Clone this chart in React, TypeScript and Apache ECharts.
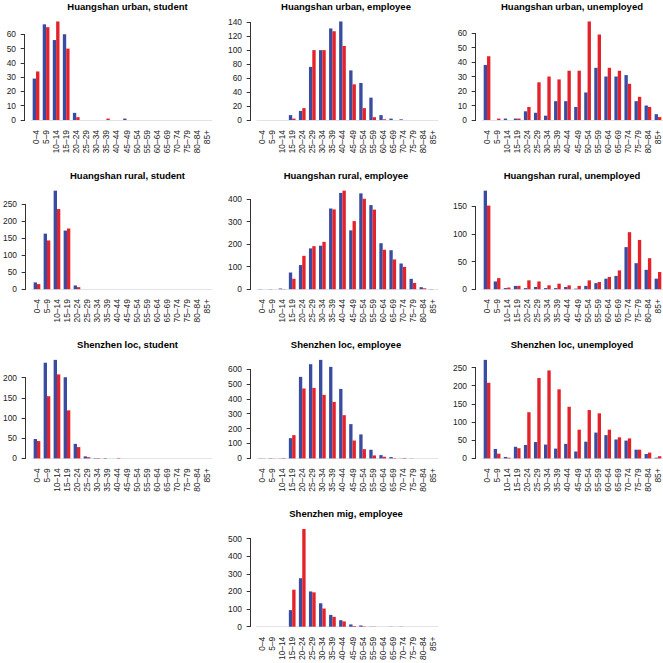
import React, { useEffect, useRef } from "react";
import * as echarts from "echarts";

const ageGroups = ["0–4", "5–9", "10–14", "15–19", "20–24", "25–29", "30–34", "35–39", "40–44", "45–49", "50–54", "55–59", "60–64", "65–69", "70–74", "75–79", "80–84", "85+"];

const panelTitles = [
  "Huangshan urban, student", "Huangshan urban, employee", "Huangshan urban, unemployed",
  "Huangshan rural, student", "Huangshan rural, employee", "Huangshan rural, unemployed",
  "Shenzhen loc, student", "Shenzhen loc, employee", "Shenzhen loc, unemployed",
  "Shenzhen mig, employee",
];

// blue = first bar of each pair, red = second
const hsUrbanStudentBlue = [29, 67, 56, 60, 5, 0, 0, 0, 0, 1, 0, 0, 0, 0, 0, 0, 0, 0];
const hsUrbanStudentRed = [34, 65, 69, 50, 2, 0, 0, 1, 0, 0, 0, 0, 0, 0, 0, 0, 0, 0];
const hsUrbanEmployeeBlue = [0, 0, 0, 7, 13, 76, 100, 131, 141, 71, 53, 32, 7, 2, 1, 0, 0, 0];
const hsUrbanEmployeeRed = [0, 0, 0, 2, 17, 100, 100, 127, 106, 51, 17, 4, 1, 0, 0, 0, 0, 0];
const hsUrbanUnemployedBlue = [38, 0, 1, 1, 6, 5, 3, 13, 13, 9, 19, 36, 30, 30, 31, 13, 10, 4];
const hsUrbanUnemployedRed = [44, 1, 0, 1, 9, 26, 30, 28, 34, 34, 68, 59, 36, 34, 25, 16, 9, 2];
const hsRuralStudentBlue = [20, 163, 289, 172, 11, 0, 0, 0, 0, 0, 0, 0, 0, 0, 0, 0, 0, 0];
const hsRuralStudentRed = [15, 143, 235, 178, 6, 0, 0, 0, 0, 0, 0, 0, 0, 0, 0, 0, 0, 0];
const hsRuralEmployeeBlue = [1, 1, 3, 74, 107, 181, 193, 358, 427, 261, 425, 373, 204, 173, 114, 46, 9, 1];
const hsRuralEmployeeRed = [0, 0, 1, 46, 148, 191, 210, 354, 437, 302, 401, 353, 175, 132, 99, 28, 4, 0];
const hsRuralUnemployedBlue = [178, 14, 2, 6, 2, 4, 2, 2, 4, 1, 6, 11, 19, 24, 76, 47, 35, 19];
const hsRuralUnemployedRed = [151, 20, 3, 6, 16, 14, 7, 10, 7, 6, 16, 13, 22, 34, 103, 89, 56, 31];
const szLocStudentBlue = [48, 237, 244, 201, 36, 5, 1, 1, 0, 0, 0, 0, 0, 0, 0, 0, 0, 0];
const szLocStudentRed = [43, 154, 208, 119, 28, 3, 1, 0, 1, 0, 0, 0, 0, 0, 0, 0, 0, 0];
const szLocEmployeeBlue = [1, 2, 1, 136, 547, 632, 661, 614, 466, 230, 161, 58, 22, 9, 1, 1, 0, 0];
const szLocEmployeeRed = [1, 1, 3, 156, 469, 473, 426, 379, 290, 120, 62, 20, 11, 2, 3, 0, 0, 0];
const szLocUnemployedBlue = [271, 26, 4, 32, 37, 45, 38, 27, 40, 19, 46, 71, 64, 52, 49, 24, 12, 2];
const szLocUnemployedRed = [208, 13, 2, 28, 127, 221, 242, 190, 142, 79, 133, 124, 79, 58, 55, 24, 16, 6];
const szMigEmployeeBlue = [0, 0, 0, 94, 275, 200, 133, 67, 37, 13, 7, 1, 0, 1, 1, 0, 0, 0];
const szMigEmployeeRed = [0, 0, 0, 210, 554, 195, 103, 56, 30, 4, 2, 1, 0, 0, 0, 0, 0, 0];

const blueSeries = [hsUrbanStudentBlue, hsUrbanEmployeeBlue, hsUrbanUnemployedBlue, hsRuralStudentBlue, hsRuralEmployeeBlue, hsRuralUnemployedBlue, szLocStudentBlue, szLocEmployeeBlue, szLocUnemployedBlue, szMigEmployeeBlue];
const redSeries = [hsUrbanStudentRed, hsUrbanEmployeeRed, hsUrbanUnemployedRed, hsRuralStudentRed, hsRuralEmployeeRed, hsRuralUnemployedRed, szLocStudentRed, szLocEmployeeRed, szLocUnemployedRed, szMigEmployeeRed];

// y tick step and top tick per panel
const tickSteps = [10, 20, 10, 50, 100, 50, 50, 100, 50, 100];
const tickTops = [60, 140, 60, 250, 400, 150, 200, 600, 250, 500];

// layout (row, col) per panel
const panelRows = [0, 0, 0, 1, 1, 1, 2, 2, 2, 3];
const panelCols = [0, 1, 2, 0, 1, 2, 0, 1, 2, 1];

const COL_LEFT = [31, 257, 482];
const GRID_W = 181;
const TITLE_X = [127.5, 346, 572];
const ROW0_ZERO = 120;
const ROW_STEP = 169.2;
const GRID_H = 103.5;
const AXIS_OFFSET = 6;
const BLUE = "#3a4ca1";
const RED = "#e4222a";
const FONT = "'Liberation Sans', Arial, Helvetica, sans-serif";

export default function App() {
  const ref = useRef<HTMLDivElement>(null);
  useEffect(() => {
    document.body.style.margin = "0";
    if (!ref.current) return;
    const chart = echarts.init(ref.current, null, { renderer: "svg" });

    const grids: any[] = [];
    const xAxes: any[] = [];
    const yAxes: any[] = [];
    const titles: any[] = [];
    const series: any[] = [];

    panelTitles.forEach((title, i) => {
      const r = panelRows[i];
      const c = panelCols[i];
      const zeroY = ROW0_ZERO + ROW_STEP * r;
      const dataMax = Math.max(...blueSeries[i], ...redSeries[i]);
      const yMax = dataMax * 1.0504;
      const ticks: number[] = [];
      for (let v = 0; v <= tickTops[i]; v += tickSteps[i]) ticks.push(v);

      grids.push({ left: COL_LEFT[c], top: zeroY - GRID_H, width: GRID_W, height: GRID_H, containLabel: false });
      titles.push({
        text: title,
        left: TITLE_X[c],
        top: 1 + ROW_STEP * r,
        textAlign: "center",
        padding: 0,
        textStyle: { fontSize: 9.5, fontWeight: "bold", color: "#000", fontFamily: FONT, lineHeight: 10 },
      });
      xAxes.push({
        type: "category",
        gridIndex: i,
        data: ageGroups,
        axisTick: { show: false },
        axisLine: { show: true, lineStyle: { color: "#e3e3ec", width: 1 } },
        axisLabel: { interval: 0, rotate: 90, margin: 10, fontSize: 8.4, color: "#222", fontFamily: FONT },
        splitLine: { show: false },
      });
      yAxes.push({
        type: "value",
        gridIndex: i,
        min: 0,
        max: yMax,
        offset: AXIS_OFFSET,
        axisLine: { show: false },
        axisTick: { show: true, length: 4.3, customValues: ticks, lineStyle: { color: "#333", width: 1 } },
        axisLabel: { customValues: ticks, margin: 9, fontSize: 8.4, color: "#222", fontFamily: FONT },
        splitLine: { show: false },
      });
      series.push({
        type: "bar",
        name: "blue",
        xAxisIndex: i,
        yAxisIndex: i,
        data: blueSeries[i],
        barGap: "0%",
        barCategoryGap: "33.33%",
        itemStyle: { color: BLUE },
        silent: true,
      });
      series.push({
        type: "bar",
        name: "red",
        xAxisIndex: i,
        yAxisIndex: i,
        data: redSeries[i],
        barGap: "0%",
        barCategoryGap: "33.33%",
        itemStyle: { color: RED },
        silent: true,
      });
      series.push({
        type: "custom",
        xAxisIndex: i,
        yAxisIndex: i,
        silent: true,
        z: 5,
        data: [[0, tickTops[i]]],
        renderItem: (params: any, api: any) => {
          const top = api.value(1);
          const p0 = api.coord([0, 0]);
          const p1 = api.coord([0, top]);
          const x = Math.round(params.coordSys.x - AXIS_OFFSET) - 0.5;
          return {
            type: "line",
            shape: { x1: x, y1: p0[1], x2: x, y2: p1[1] },
            style: { stroke: "#333", lineWidth: 1 },
          };
        },
      });
    });

    chart.setOption({
      animation: false,
      backgroundColor: "#fff",
      title: titles,
      grid: grids,
      xAxis: xAxes,
      yAxis: yAxes,
      series,
    });
    return () => chart.dispose();
  }, []);
  return <div ref={ref} style={{ position: "fixed", left: 0, top: 0, width: 663, height: 663 }} />;
}
